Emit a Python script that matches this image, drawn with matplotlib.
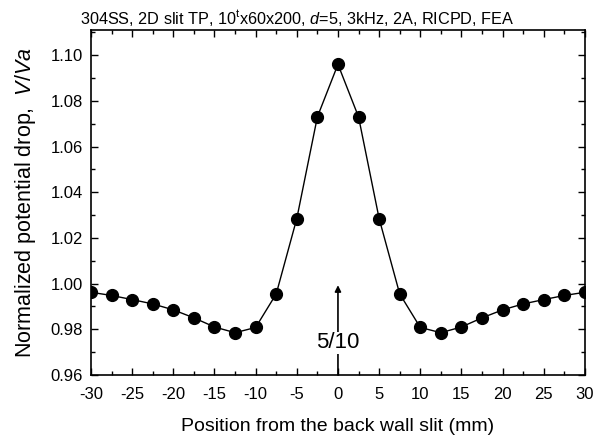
import matplotlib
matplotlib.use("Agg")
import matplotlib.pyplot as plt
from matplotlib.ticker import MultipleLocator

plt.rcParams["font.family"] = ["Liberation Sans", "DejaVu Sans"]
plt.rcParams["mathtext.fontset"] = "custom"
plt.rcParams["mathtext.rm"] = "Liberation Sans"
plt.rcParams["mathtext.it"] = "Liberation Sans:italic"
plt.rcParams["axes.unicode_minus"] = False

# data
position = [-30, -27.5, -25, -22.5, -20, -17.5, -15, -12.5, -10, -7.5, -5, -2.5, 0,
            2.5, 5, 7.5, 10, 12.5, 15, 17.5, 20, 22.5, 25, 27.5, 30]
ratio = [0.9962, 0.9948, 0.9930, 0.9911, 0.9885, 0.9850, 0.9810, 0.9785, 0.9808,
         0.9955, 1.0285, 1.0730, 1.0960,
         1.0730, 1.0285, 0.9955, 0.9808, 0.9785, 0.9810, 0.9850, 0.9885, 0.9911,
         0.9930, 0.9948, 0.9962]
yticks = [0.96, 0.98, 1.00, 1.02, 1.04, 1.06, 1.08, 1.10]
ytick_labels = ["0.96", "0.98", "1.00", "1.02", "1.04", "1.06", "1.08", "1.10"]

fig = plt.figure(figsize=(5.95, 4.36), dpi=100)
ax = fig.add_axes([0.153, 0.14, 0.830, 0.791])

ax.plot(position, ratio, color="black", linewidth=1.0, marker="o",
        markersize=8.5, markerfacecolor="black")

ax.set_xlim(-30, 30)
ax.set_ylim(0.96, 1.111)
ax.xaxis.set_major_locator(MultipleLocator(5))
ax.xaxis.set_minor_locator(MultipleLocator(2.5))
ax.yaxis.set_minor_locator(MultipleLocator(0.01))
ax.set_yticks(yticks)
ax.set_yticklabels(ytick_labels)
ax.tick_params(which="both", direction="in", top=True, right=True, labelsize=12)
ax.tick_params(which="major", length=5, width=1)
ax.tick_params(which="minor", length=3, width=1)
ax.tick_params(axis="x", pad=9)
ax.tick_params(axis="y", pad=6)
for sp in ax.spines.values():
    sp.set_linewidth(1.2)

# slit marker
ax.annotate("", xy=(0, 0.9993), xytext=(0, 0.96),
            arrowprops=dict(arrowstyle="-|>", color="black", lw=1.2,
                            mutation_scale=9, shrinkA=0, shrinkB=0))
ax.text(0, 0.974, "5/10", fontsize=16, ha="center", va="center",
        bbox=dict(facecolor="white", edgecolor="none", pad=0.3))

fig.text(0.5, 0.958, r"304SS, 2D slit TP, 10$^{\rm t}$x60x200, $d$=5, 3kHz, 2A, RICPD, FEA",
         fontsize=11.7, ha="center", va="center")
ax.set_xlabel("Position from the back wall slit (mm)", fontsize=14, labelpad=11)
ax.set_ylabel(r"Normalized potential drop,  $V/Va$", fontsize=15.5, labelpad=9)

fig.savefig("out.png", dpi=100)
